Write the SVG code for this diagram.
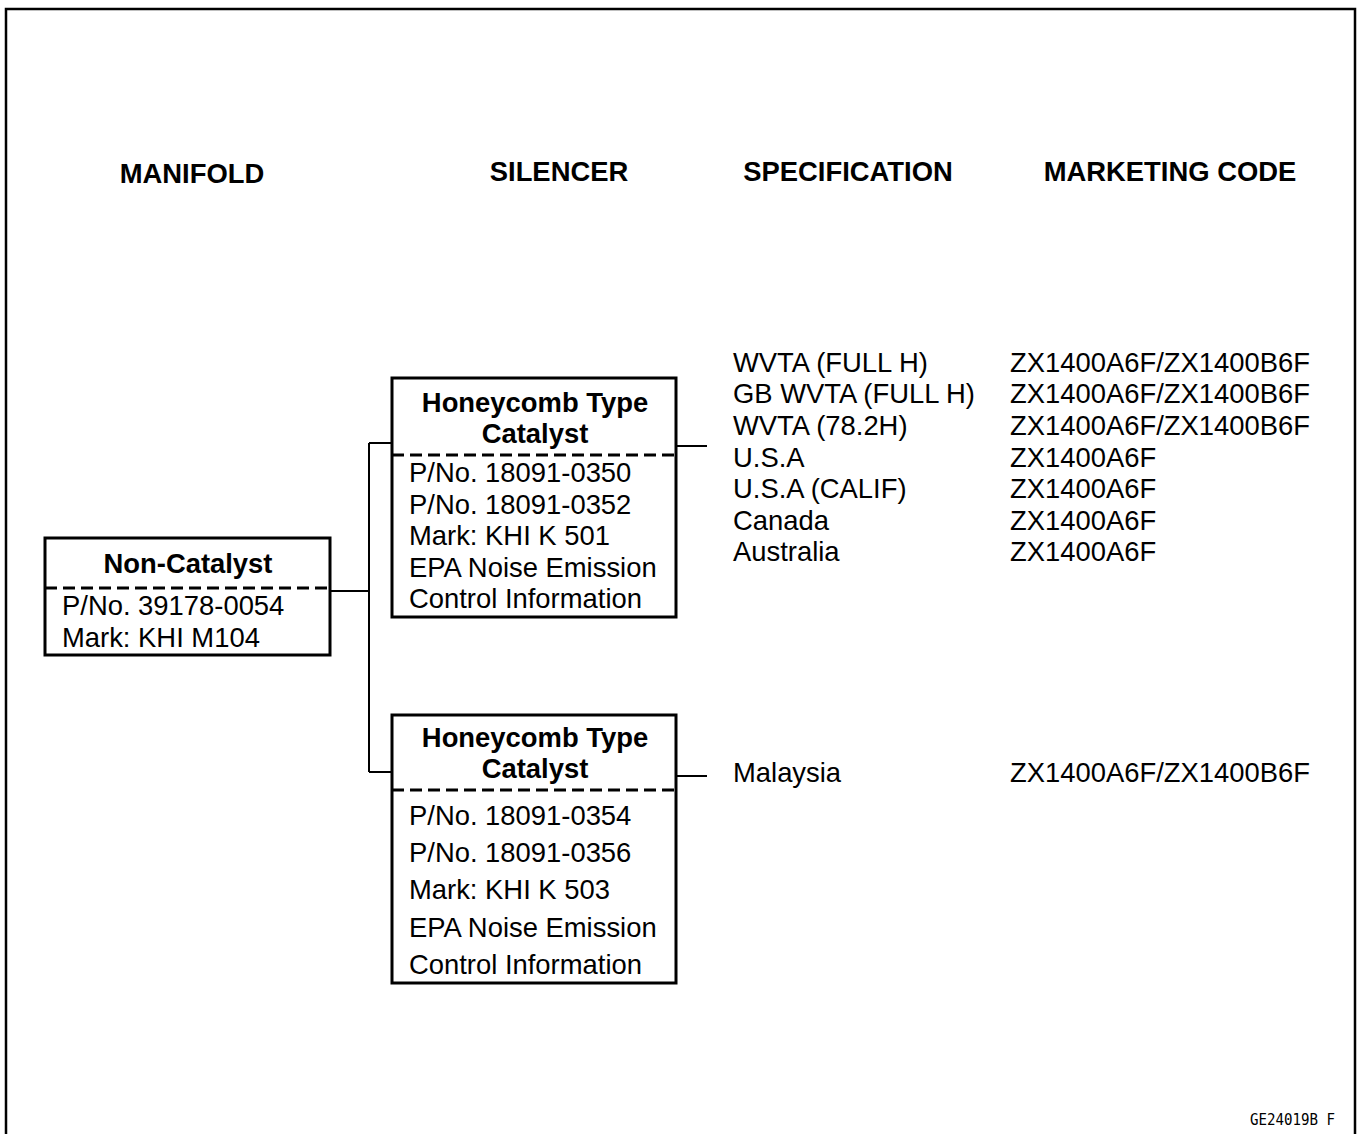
<svg xmlns="http://www.w3.org/2000/svg" width="1357" height="1134" viewBox="0 0 1357 1134">
<style>
.t{font-family:"Liberation Sans",Arial,sans-serif;font-size:27.4px;fill:#000}
.b{font-weight:bold}
.box{fill:#fff;stroke:#000;stroke-width:3}
.dash{stroke:#000;stroke-width:3;stroke-dasharray:12 6;fill:none}
.ln{stroke:#000;stroke-width:2;fill:none}
.code{font-family:"DejaVu Sans Mono","Liberation Mono",monospace;font-size:15px;fill:#000}
</style>
<rect width="1357" height="1134" fill="#fff"/>
<path d="M6 1134 V9 H1355 V1134" fill="none" stroke="#000" stroke-width="2.5"/>
<g id="headers">
<text class="t b" x="192" y="183" text-anchor="middle">MANIFOLD</text>
<text class="t b" x="559" y="181" text-anchor="middle">SILENCER</text>
<text class="t b" x="848" y="181" text-anchor="middle">SPECIFICATION</text>
<text class="t b" x="1170" y="181" text-anchor="middle">MARKETING CODE</text>
</g>
<g id="connectors">
<path class="ln" d="M330 591 H369 M369 443 V772 M369 443 H392 M369 772 H392"/>
<path class="ln" d="M676 446 H707 M676 776 H707"/>
</g>
<g id="non-catalyst">
<rect class="box" x="45" y="538" width="285" height="117"/>
<line class="dash" x1="45" y1="588" x2="330" y2="588"/>
<text class="t b" x="188" y="573" text-anchor="middle">Non-Catalyst</text>
<text class="t" x="62" y="615">P/No. 39178-0054</text>
<text class="t" x="62" y="647">Mark: KHI M104</text>
</g>
<g id="silencer1">
<rect class="box" x="392" y="378" width="284" height="239"/>
<line class="dash" x1="392" y1="455" x2="676" y2="455"/>
<text class="t b" x="535" y="412" text-anchor="middle">Honeycomb Type</text>
<text class="t b" x="535" y="443" text-anchor="middle">Catalyst</text>
<text class="t" x="409" y="482">P/No. 18091-0350</text>
<text class="t" x="409" y="514">P/No. 18091-0352</text>
<text class="t" x="409" y="545">Mark: KHI K 501</text>
<text class="t" x="409" y="577">EPA Noise Emission</text>
<text class="t" x="409" y="608">Control Information</text>
</g>
<g id="silencer2">
<rect class="box" x="392" y="715" width="284" height="268"/>
<line class="dash" x1="392" y1="790" x2="676" y2="790"/>
<text class="t b" x="535" y="747" text-anchor="middle">Honeycomb Type</text>
<text class="t b" x="535" y="778" text-anchor="middle">Catalyst</text>
<text class="t" x="409" y="825">P/No. 18091-0354</text>
<text class="t" x="409" y="862">P/No. 18091-0356</text>
<text class="t" x="409" y="899">Mark: KHI K 503</text>
<text class="t" x="409" y="937">EPA Noise Emission</text>
<text class="t" x="409" y="974">Control Information</text>
</g>
<g id="spec1">
<text class="t" x="733" y="372">WVTA (FULL H)</text>
<text class="t" x="733" y="403">GB WVTA (FULL H)</text>
<text class="t" x="733" y="435">WVTA (78.2H)</text>
<text class="t" x="733" y="467">U.S.A</text>
<text class="t" x="733" y="498">U.S.A (CALIF)</text>
<text class="t" x="733" y="530">Canada</text>
<text class="t" x="733" y="561">Australia</text>
</g>
<g id="code1">
<text class="t" x="1010" y="372">ZX1400A6F/ZX1400B6F</text>
<text class="t" x="1010" y="403">ZX1400A6F/ZX1400B6F</text>
<text class="t" x="1010" y="435">ZX1400A6F/ZX1400B6F</text>
<text class="t" x="1010" y="467">ZX1400A6F</text>
<text class="t" x="1010" y="498">ZX1400A6F</text>
<text class="t" x="1010" y="530">ZX1400A6F</text>
<text class="t" x="1010" y="561">ZX1400A6F</text>
</g>
<g id="spec2">
<text class="t" x="733" y="782">Malaysia</text>
<text class="t" x="1010" y="782">ZX1400A6F/ZX1400B6F</text>
</g>
<text class="code" x="1250" y="1125" textLength="85" lengthAdjust="spacingAndGlyphs">GE24019B  F</text>
</svg>
